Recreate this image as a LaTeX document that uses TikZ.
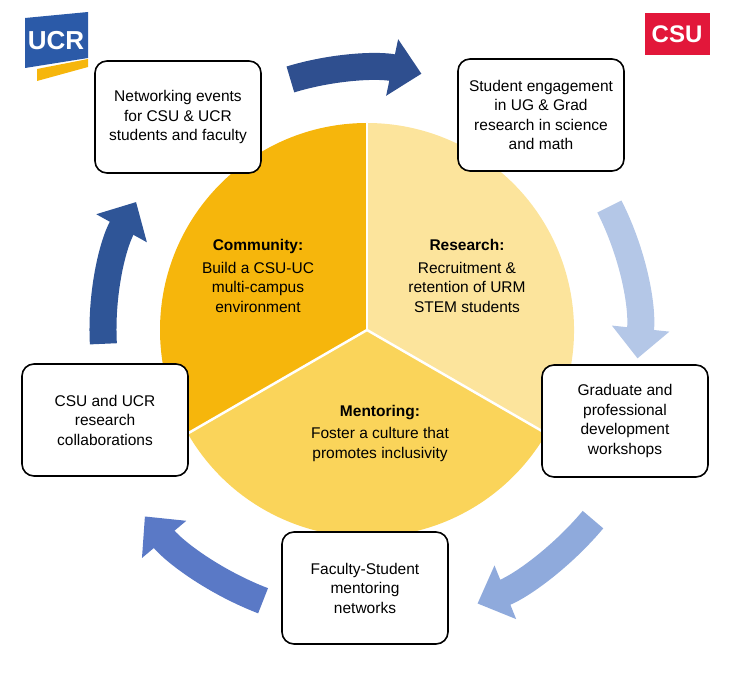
\documentclass[tikz,border=0pt]{standalone}
\usepackage{fontspec}
\setmainfont{Liberation Sans}
\usetikzlibrary{arrows.meta}
\definecolor{comm}{HTML}{F6B60C}
\definecolor{rese}{HTML}{FCE49C}
\definecolor{ment}{HTML}{FAD45A}
\definecolor{ucrblue}{HTML}{2B5AA8}
\definecolor{csured}{HTML}{E2173A}
\definecolor{arrA}{HTML}{2F4F8F}
\definecolor{arrB}{HTML}{B4C7E7}
\definecolor{arrC}{HTML}{8FAADC}
\definecolor{arrD}{HTML}{5A79C6}
\definecolor{arrE}{HTML}{2F5597}
\tikzset{
  box/.style={draw, line width=1.6pt, rounded corners=12pt, fill=white,
    minimum width=166pt, minimum height=112pt, align=center,
    font=\fontsize{15.5}{19.5}\selectfont},
  lbl/.style={align=center, font=\fontsize{15.5}{19.5}\selectfont},
  flow/.style={line width=27pt, -{Triangle[width=56pt,length=30pt]}}
}
\begin{document}
\begin{tikzpicture}[x=1pt, y=1pt]
  \useasboundingbox (0,0) rectangle (733,673);
  \coordinate (c) at (367,343);

  % the three sectors
  \fill[comm] (c) -- ++(90:207) arc (90:210:207) -- cycle;
  \fill[ment] (c) -- ++(210:207) arc (210:330:207) -- cycle;
  \fill[rese] (c) -- ++(330:207) arc (-30:90:207) -- cycle;
  \foreach \a in {90,210,330}
    \draw[white, line width=2.5pt] (c) -- ++(\a:207);

  \node[lbl] (community) at (258,397) {\textbf{Community:}\\[3pt]Build a CSU-UC\\multi-campus\\environment};
  \node[lbl] (research) at (467,397) {\textbf{Research:}\\[3pt]Recruitment \&\\retention of URM\\STEM students};
  \node[lbl] (mentoring) at (380,240) {\textbf{Mentoring:}\\[3pt]Foster a culture that\\promotes inclusivity};

  % curved arrows round the ring
  \draw[flow, arrA] ([shift={(107:262)}]c) arc (107:78:262);
  \draw[flow, arrB] ([shift={(27:272)}]c) arc (27:-6:272);
  \draw[flow, arrC] ([shift={(-40:295)}]c) arc (-40:-68:295);
  \draw[flow, arrD] ([shift={(-111:290)}]c) arc (-111:-140:290);
  \draw[flow, arrE] ([shift={(183:264)}]c) arc (183:151:264);

  % the five activity boxes
  \node[box] (network) at (178,556) {Networking events\\for CSU \& UCR\\students and faculty};
  \node[box] (engage) at (541,558) {Student engagement\\in UG \& Grad\\research in science\\and math};
  \node[box] (workshop) at (625,252) {Graduate and\\professional\\development\\workshops};
  \node[box] (faculty) at (365,85) {Faculty-Student\\mentoring\\networks};
  \node[box] (collab) at (105,253) {CSU and UCR\\research\\collaborations};

  % logos
  \fill[comm] (37,604) -- (88,614) -- (88,606) -- (37,592) -- cycle;
  \fill[ucrblue] (25,605) -- (88,615) -- (88,661) -- (25,655) -- cycle;
  \node[white, font=\fontsize{26}{26}\selectfont\bfseries] (ucr) at (56,632) {UCR};
  \fill[csured] (645,618) rectangle (710,660);
  \node[white, font=\fontsize{24}{24}\selectfont\bfseries] (csu) at (677,639) {CSU};
\end{tikzpicture}
\end{document}
